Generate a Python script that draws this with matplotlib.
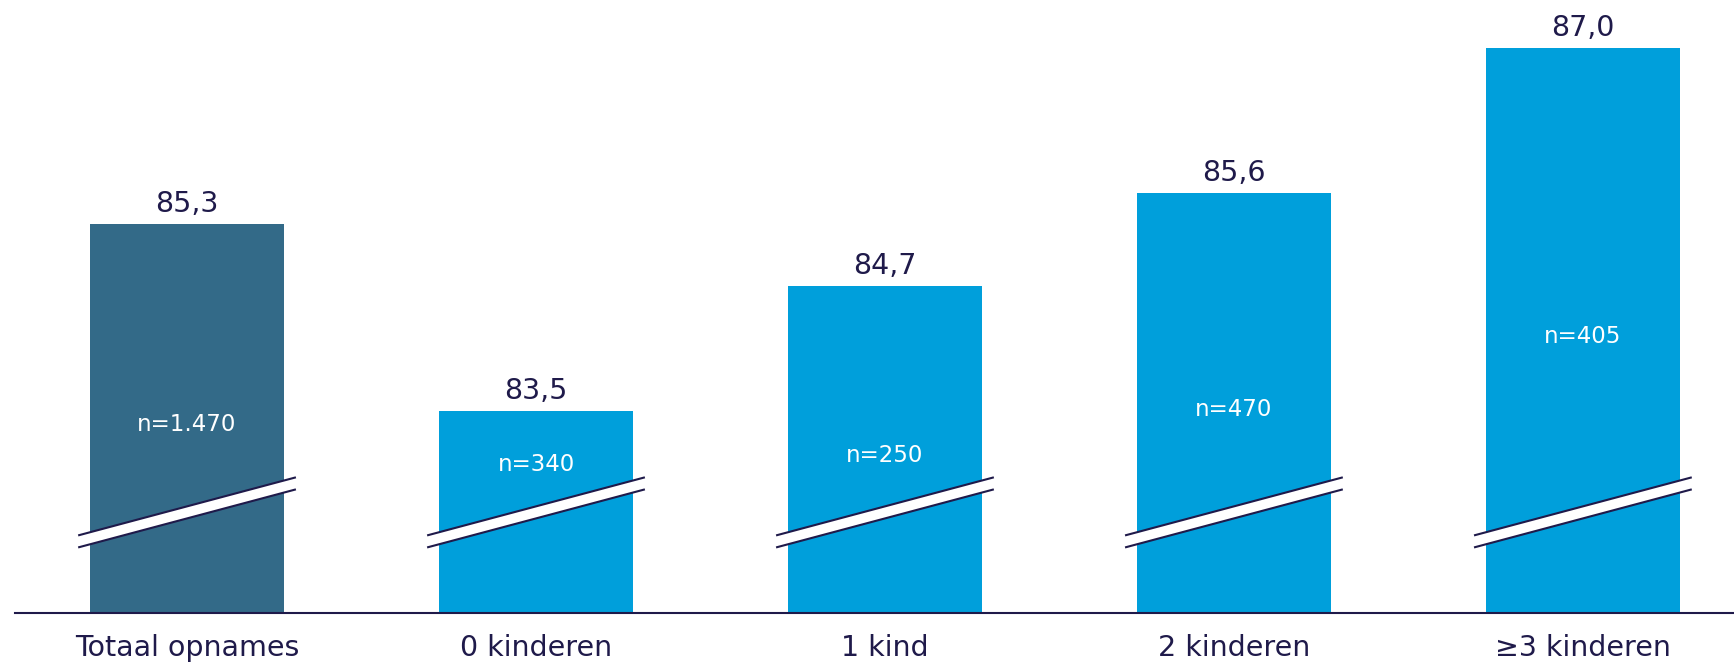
import matplotlib
matplotlib.use("Agg")
import matplotlib.pyplot as plt
from matplotlib.patches import Polygon

categories = ["Totaal opnames", "0 kinderen", "1 kind", "2 kinderen", "\u22653 kinderen"]
values = [85.3, 83.5, 84.7, 85.6, 87.0]
value_labels = ["85,3", "83,5", "84,7", "85,6", "87,0"]
n_labels = ["n=1.470", "n=340", "n=250", "n=470", "n=405"]

DARK = "#336A88"
BLUE = "#009FDB"
NAVY = "#1F1A4A"
Y_MIN, Y_MAX = 81.55, 87.46

plt.rcParams["font.family"] = ["DejaVu Sans"]

fig = plt.figure(figsize=(17.34, 6.67), dpi=100)
ax = fig.add_axes([15 / 1734, 54 / 667, 1 - 15 / 1734, 1 - 54 / 667])

x = list(range(len(categories)))
colors = [DARK] + [BLUE] * (len(categories) - 1)
bar_w = 0.556
ax.bar(x, [v - Y_MIN for v in values], bottom=Y_MIN, width=bar_w, color=colors, zorder=2)

ax.set_xlim(-0.493, 4.433)
ax.set_ylim(Y_MIN, Y_MAX)

# axis break marks: a white slanted band edged by two navy lines
half = 0.312
y_left, y_right = 82.24, 82.80
gap = 0.058
for xi in x:
    x0, x1 = xi - half, xi + half
    band = Polygon([(x0, y_left - gap), (x1, y_right - gap), (x1, y_right + gap), (x0, y_left + gap)],
                   closed=True, facecolor="white", edgecolor="none", zorder=3)
    ax.add_patch(band)
    for s in (-gap, gap):
        ax.plot([x0, x1], [y_left + s, y_right + s], color=NAVY, lw=1.5, zorder=4,
                solid_capstyle="butt")

break_mid_top = (y_left + y_right) / 2 + gap
for xi, v, vl, nl in zip(x, values, value_labels, n_labels):
    ax.annotate(vl, (xi, v), xytext=(0, 8.5), textcoords="offset points",
                ha="center", va="baseline", fontsize=20.5, color=NAVY)
    ny = max((v + Y_MIN) / 2 - 0.06, break_mid_top + 0.4)
    ax.text(xi, ny, nl, ha="center", va="center", fontsize=16.5, color="white", zorder=5)

for side in ("left", "right", "top"):
    ax.spines[side].set_visible(False)
ax.spines["bottom"].set_color(NAVY)
ax.spines["bottom"].set_linewidth(1.5)
ax.spines["bottom"].set_zorder(5)
ax.set_yticks([])
ax.set_xticks(x)
ax.set_xticklabels(categories, fontsize=20.5, color=NAVY)
ax.tick_params(axis="x", length=0, pad=15)

fig.savefig("out.png", dpi=100)
